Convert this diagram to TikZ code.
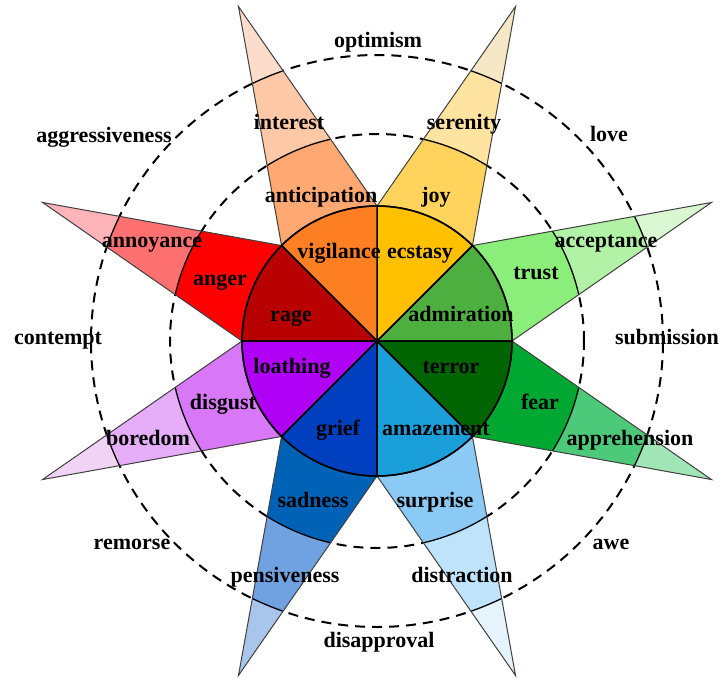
\documentclass[tikz,border=0pt]{standalone}
\usepackage{fontspec}
\setmainfont{Liberation Serif}
% petal palettes: core, inner band, outer band, tip
\definecolor{grA}{HTML}{4CAF40}\definecolor{grB}{HTML}{8BEE7A}\definecolor{grC}{HTML}{B2F2A6}\definecolor{grD}{HTML}{D9F8D1}
\definecolor{yeA}{HTML}{FFC000}\definecolor{yeB}{HTML}{FFD35C}\definecolor{yeC}{HTML}{FFE3A0}\definecolor{yeD}{HTML}{F6E7C7}
\definecolor{orA}{HTML}{FF7F22}\definecolor{orB}{HTML}{FFA872}\definecolor{orC}{HTML}{FFC8A6}\definecolor{orD}{HTML}{FCDDCC}
\definecolor{rdA}{HTML}{B80000}\definecolor{rdB}{HTML}{FF0000}\definecolor{rdC}{HTML}{FF7070}\definecolor{rdD}{HTML}{FFB4BA}
\definecolor{puA}{HTML}{B000F6}\definecolor{puB}{HTML}{D877F8}\definecolor{puC}{HTML}{E6AEF8}\definecolor{puD}{HTML}{F1D3F6}
\definecolor{blA}{HTML}{0040C0}\definecolor{blB}{HTML}{0062B6}\definecolor{blC}{HTML}{70A2E2}\definecolor{blD}{HTML}{A9C5EC}
\definecolor{lbA}{HTML}{1B9FDA}\definecolor{lbB}{HTML}{8ACAF4}\definecolor{lbC}{HTML}{BEE3FA}\definecolor{lbD}{HTML}{E5F3FD}
\definecolor{dgA}{HTML}{006400}\definecolor{dgB}{HTML}{00A832}\definecolor{dgC}{HTML}{4DC97A}\definecolor{dgD}{HTML}{A0E5B6}
\begin{document}
\begin{tikzpicture}[x=1pt,y=1pt,
  lbl/.style={font=\fontsize{22}{24}\selectfont\bfseries, inner sep=0pt, text height=15pt, text depth=5pt},
  ring/.style={black, line width=2pt, dash pattern=on 10pt off 7pt},
  petaledge/.style={draw=black!75, line width=1pt},
  bandline/.style={black, line width=1.3pt},
  core/.style={draw=black, line width=1.5pt}]
\useasboundingbox (-377,-337) rectangle (345,341);
\def\rA{135}\def\rB{207}\def\rC{286}\def\rT{362}
% dashed rings behind the petals
\draw[ring] (0,0) circle (\rB);
\draw[ring] (0,0) circle (\rC);
% petals and core sectors
\foreach \a/\ca/\cb/\cc/\cd in {0/grA/grB/grC/grD,45/yeA/yeB/yeC/yeD,90/orA/orB/orC/orD,135/rdA/rdB/rdC/rdD,
  180/puA/puB/puC/puD,225/blA/blB/blC/blD,270/lbA/lbB/lbC/lbD,315/dgA/dgB/dgC/dgD}{
  \pgfmathsetmacro\am{\a+22.5}
  \pgfmathsetmacro\ae{\a+45}
  \begin{scope}
    \clip (\a:\rA) -- (\am:\rT) -- (\ae:\rA) -- cycle;
    \fill[\cd] (0,0) circle (\rT+10);
    \fill[\cc] (0,0) circle (\rC);
    \fill[\cb] (0,0) circle (\rB);
    \draw[bandline] (0,0) circle (\rB);
    \draw[bandline] (0,0) circle (\rC);
  \end{scope}
  \draw[petaledge] (\a:\rA) -- (\am:\rT) -- (\ae:\rA);
  \filldraw[fill=\ca, core] (0,0) -- (\a:\rA) arc[start angle=\a, end angle=\ae, radius=\rA] -- cycle;
}
\draw[core] (0,0) circle (\rA);
% labels
\begin{scope}[yshift=-2pt, every node/.style={lbl}]
\node (optimism) at (1,300) {optimism};
\node (aggress) at (-273,206) {aggressiveness};
\node (love) at (232,207) {love};
\node (contempt) at (-319,4) {contempt};
\node (submission) at (290,4) {submission};
\node (remorse) at (-245,-201) {remorse};
\node (awe) at (234,-201) {awe};
\node (disapproval) at (2,-299) {disapproval};
\node (interest) at (-88,219) {interest};
\node (serenity) at (87,219) {serenity};
\node (anticipation) at (-56,146) {anticipation};
\node (joy) at (59,146) {joy};
\node (vigilance) at (-38,90) {vigilance};
\node (ecstasy) at (43,90) {ecstasy};
\node (annoyance) at (-225,101) {annoyance};
\node (anger) at (-157,63) {anger};
\node (rage) at (-86,27) {rage};
\node (acceptance) at (229,101) {acceptance};
\node (trust) at (159,69) {trust};
\node (admiration) at (84,27) {admiration};
\node (loathing) at (-85,-25) {loathing};
\node (terror) at (74,-25) {terror};
\node (disgust) at (-154,-61) {disgust};
\node (fear) at (163,-61) {fear};
\node (boredom) at (-229,-97) {boredom};
\node (apprehension) at (253,-97) {apprehension};
\node (grief) at (-39,-87) {grief};
\node (amazement) at (59,-87) {amazement};
\node (sadness) at (-64,-159) {sadness};
\node (surprise) at (58,-159) {surprise};
\node (pensiveness) at (-92,-234) {pensiveness};
\node (distraction) at (85,-234) {distraction};
\end{scope}
\end{tikzpicture}
\end{document}
